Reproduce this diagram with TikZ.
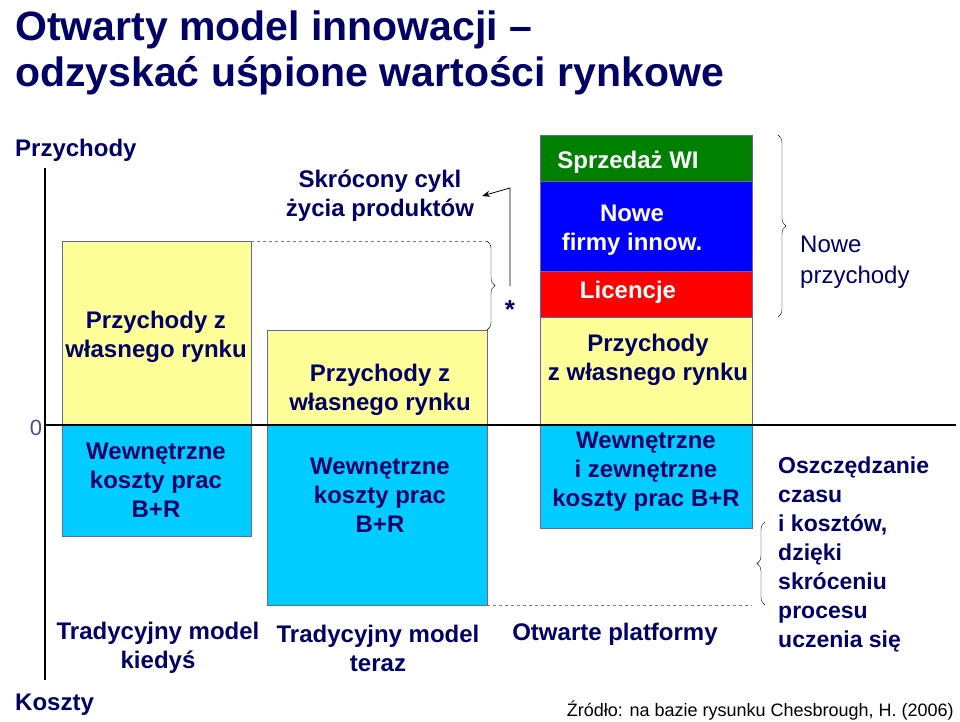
\documentclass[tikz,border=0pt]{standalone}
\usepackage{fontspec}
\setmainfont{Liberation Sans}
\usetikzlibrary{arrows.meta,decorations.pathreplacing}
\definecolor{navy}{RGB}{0,0,102}
\definecolor{boxyellow}{RGB}{255,255,153}
\definecolor{boxcyan}{RGB}{0,204,255}
\definecolor{boxgreen}{RGB}{0,128,0}
\definecolor{boxblue}{RGB}{0,0,255}
\definecolor{boxred}{RGB}{255,0,0}
\tikzset{
    bar/.style={draw=navy!60, line width=0.6pt},
    lbl/.style={text=navy, font=\fontsize{24}{29}\selectfont\bfseries, align=center, inner sep=0pt},
    wlbl/.style={text=white, font=\fontsize{24}{29}\selectfont\bfseries, align=center, inner sep=0pt},
    brc/.style={decorate, decoration={brace, amplitude=8pt}, draw=black, thin}
}
\begin{document}
\begin{tikzpicture}[x=1pt,y=-1pt]
    \useasboundingbox (0,0) rectangle (960,721);
    % title
    \node[anchor=west, text=navy, font=\fontsize{41}{48}\selectfont\bfseries, inner sep=0pt] (title1) at (15,30) {Otwarty model innowacji --};
    \node[anchor=west, text=navy, font=\fontsize{41}{48}\selectfont\bfseries, inner sep=0pt] (title2) at (15,76) {odzyskać uśpione wartości rynkowe};
    % axes
    \coordinate (atop) at (45,168);
    \coordinate (abot) at (45,680);
    \coordinate (hl) at (45,425);
    \coordinate (hr) at (956,425);
    \draw[line width=1.2pt] (atop) -- (abot);
    \node[lbl, anchor=west] (przy) at (15,150) {Przychody};
    \node[lbl, anchor=west] (kosz) at (15,705) {Koszty};
    \node[font=\fontsize{22}{24}\selectfont\rmfamily, text=navy!70, inner sep=0pt] (zero) at (36,428) {0};
    % bars
    \fill[boxyellow] (62,241) rectangle (251,425);
    \draw[bar] (62,241) rectangle (251,425);
    \fill[boxcyan] (62,425) rectangle (251,536);
    \draw[bar] (62,425) rectangle (251,536);
    \fill[boxyellow] (267,330) rectangle (487,425);
    \draw[bar] (267,330) rectangle (487,425);
    \fill[boxcyan] (267,425) rectangle (487,605);
    \draw[bar] (267,425) rectangle (487,605);
    \fill[boxgreen] (540,135) rectangle (752,181);
    \fill[boxblue] (540,181) rectangle (752,271);
    \fill[boxred] (540,271) rectangle (752,317);
    \fill[boxyellow] (540,317) rectangle (752,425);
    \fill[boxcyan] (540,425) rectangle (752,528);
    \foreach \ya/\yb in {135/181,181/271,271/317,317/425,425/528}
        \draw[bar] (540,\ya) rectangle (752,\yb);
    \draw[line width=1.2pt] (hl) -- (hr);
    % labels in bars
    \node[lbl] (r1) at (156,337) {Przychody z\\własnego rynku};
    \node[lbl] (c1) at (156,480) {Wewnętrzne\\koszty prac\\B+R};
    \node[lbl] (r2) at (380,390) {Przychody z\\własnego rynku};
    \node[lbl] (c2) at (380,495) {Wewnętrzne\\koszty prac\\B+R};
    \node[wlbl] (wi) at (628,162) {Sprzedaż WI};
    \node[wlbl] (nf) at (632,230) {Nowe\\firmy innow.};
    \node[wlbl] (lic) at (628,292) {Licencje};
    \node[lbl] (r3) at (648,360) {Przychody\\z własnego rynku};
    \node[lbl] (c3) at (646,472) {Wewnętrzne\\i zewnętrzne\\koszty prac B+R};
    % dashed guides and braces
    \coordinate (d1) at (251,241);
    \coordinate (d2) at (487,241);
    \coordinate (d3) at (487,605);
    \coordinate (d4) at (752,605);
    \draw[dashed, gray] (d1) -- (d2);
    \draw[dashed, gray] (d3) -- (d4);
    \draw[brc] (d2) -- (487,330);
    \node[lbl, font=\fontsize{26}{26}\selectfont\bfseries] (star) at (510,310) {*};
    \draw[brc] (778,135) -- (778,317);
    \draw[brc] (765,605) -- (765,522);
    % arrow
    \node[lbl] (cykl) at (380,196) {Skrócony cykl\\życia produktów};
    \coordinate (a1) at (510,286);
    \coordinate (a2) at (510,188);
    \draw[-{Stealth[length=8pt]}, thick] (a1) -- (a2) -- (cykl.east -| 482,0);
    % side texts
    \node[lbl, anchor=west, align=left, font=\fontsize{24}{31}\selectfont] (nowe) at (800,262) {Nowe\\przychody};
    \node[lbl, anchor=west, align=left, font=\fontsize{23}{29}\selectfont\bfseries] (osz) at (778,554) {Oszczędzanie\\czasu\\i kosztów,\\dzięki\\skróceniu\\procesu\\uczenia się};
    % bottom captions
    \node[lbl] (t1) at (158,648) {Tradycyjny model\\kiedyś};
    \node[lbl] (t2) at (378,648) {Tradycyjny model\\teraz};
    \node[lbl] (t3) at (615,634) {Otwarte platformy};
    \node[anchor=east, font=\fontsize{18}{20}\selectfont, inner sep=0pt] (src) at (954,711) {Źródło: na bazie rysunku Chesbrough, H. (2006)};
\end{tikzpicture}
\end{document}
